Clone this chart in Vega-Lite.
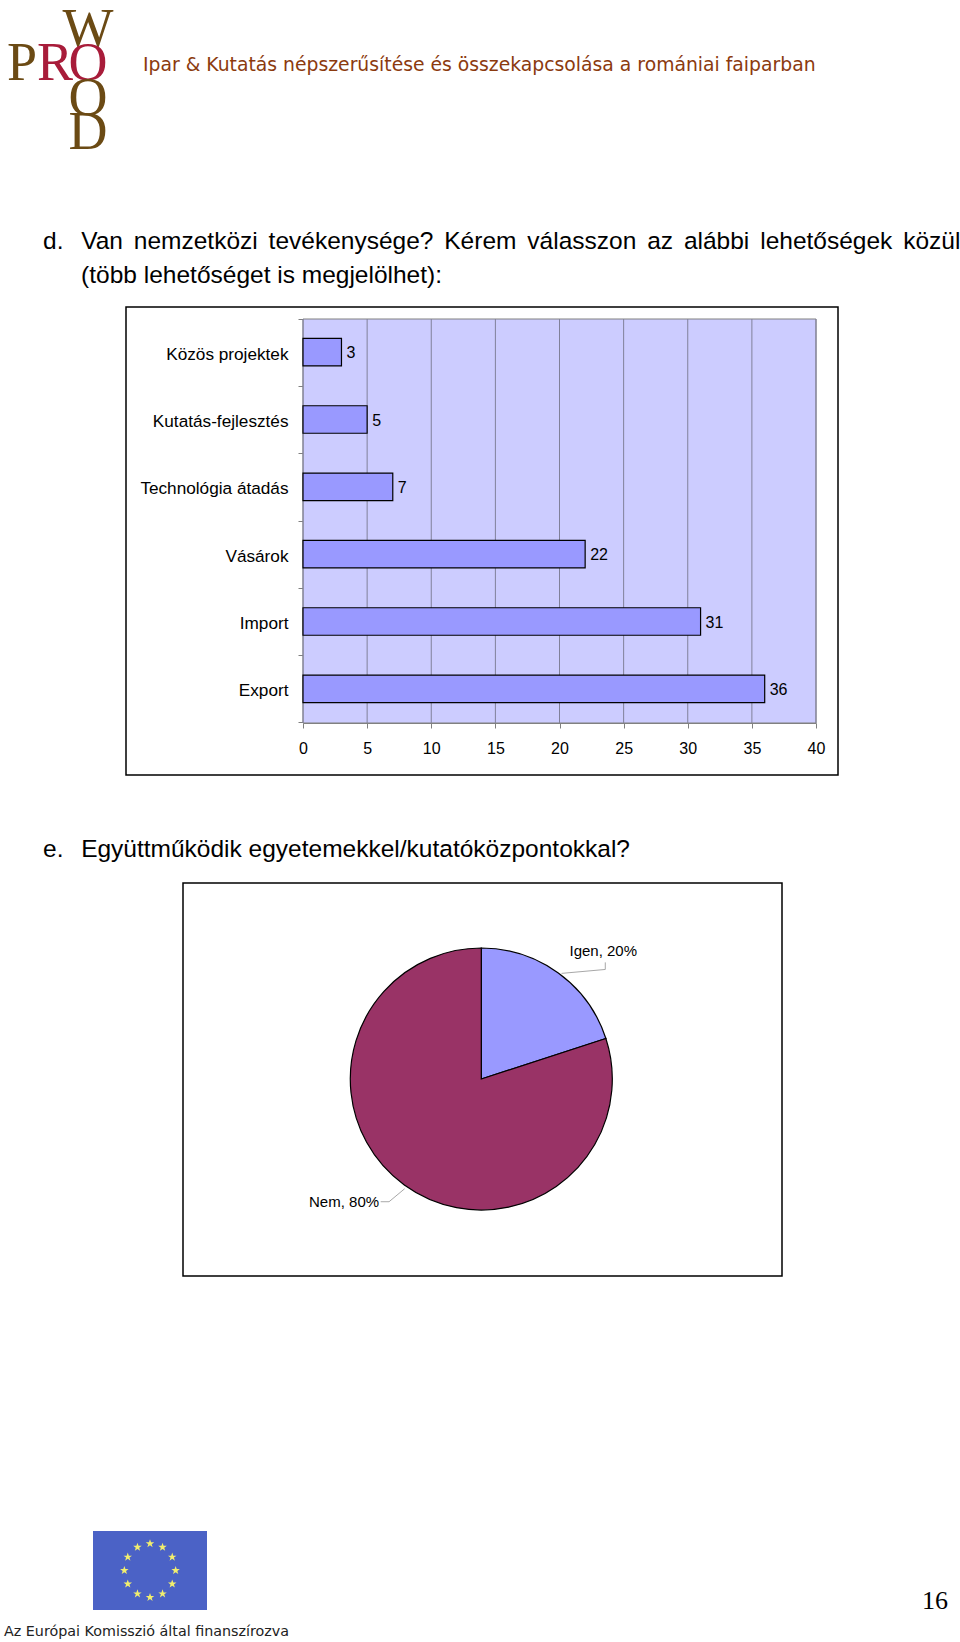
{
"$schema":"https://vega.github.io/schema/vega-lite/v6.json",
"padding":0,"spacing":0,"bounds":"flush","background":"white",
"resolve":{"scale":{"color":"independent"}},
"config":{"view":{"stroke":null},"font":"Liberation Sans","title":{"anchor":"start","frame":"group"}},
"vconcat":[
{"width":960,"height":215,
 "title":{"text":"Ipar & Kutatás népszerűsítése és összekapcsolása a romániai faiparban","font":"DejaVu Sans","fontSize":18.8,"fontWeight":"normal","color":"#8b3a0e","dx":143,"offset":-75},
 "data":{"values":[
  {"letter":"W","col":"c","row":"r1","tone":"brown"},
  {"letter":"P","col":"a","row":"r2","tone":"brown"},
  {"letter":"R","col":"b","row":"r2","tone":"red"},
  {"letter":"O","col":"c","row":"r2","tone":"red"},
  {"letter":"O","col":"c","row":"r3","tone":"brown"},
  {"letter":"D","col":"c","row":"r4","tone":"brown"}]},
 "mark":{"type":"text","font":"Liberation Serif","fontSize":54,"baseline":"middle"},
 "encoding":{
  "x":{"field":"col","type":"ordinal","axis":null,"scale":{"type":"point","padding":0,"range":[22,88]}},
  "y":{"field":"row","type":"ordinal","axis":null,"scale":{"type":"point","padding":0,"range":[30,133]}},
  "text":{"field":"letter"},
  "color":{"field":"tone","legend":null,"scale":{"domain":["brown","red"],"range":["#6b4a14","#a81c3a"]}}}
},
{"width":960,"height":575,
 "title":{"text":["d.\u00a0\u00a0\u2006Van\u00a0\u2006nemzetközi\u00a0\u2006tevékenysége?\u00a0\u2006Kérem\u00a0\u2006válasszon\u00a0\u2006az\u00a0\u2006alábbi\u00a0\u2006lehetőségek\u00a0\u2006közül","\u200b\u00a0\u00a0\u00a0\u00a0\u00a0\u2006(több lehetőséget is megjelölhet):"],"font":"Liberation Sans","fontSize":24.5,"fontWeight":"normal","color":"black","dx":43,"offset":-82.5,"lineHeight":34.5},
 "layer":[
  {"data":{"values":[{"frame":"bars"}]},"mark":{"type":"rect","fill":"transparent","stroke":"black","strokeWidth":1.5},
   "encoding":{
    "x":{"datum":0,"axis":null,"scale":{"domain":[0,1],"range":[126,838]}},"x2":{"datum":1},
    "y":{"datum":0,"axis":null,"scale":{"domain":[0,1],"range":[92,560]}},"y2":{"datum":1}}},
  {"data":{"values":[{"v":0},{"v":5},{"v":10},{"v":15},{"v":20},{"v":25},{"v":30},{"v":35},{"v":40}]},
   "encoding":{
    "x":{"field":"v","type":"quantitative","axis":null,"scale":{"domain":[0,40],"range":[303,816]}},
    "y":{"datum":0,"axis":null,"scale":{"domain":[0,1],"range":[104,508]}},"y2":{"datum":1}},
   "layer":[
    {"mark":{"type":"rect","fill":"#ccccff","stroke":"#808080","strokeWidth":1},"transform":[{"filter":"datum.v===0"}],"encoding":{"x":{"datum":0,"axis":null,"scale":{"domain":[0,40],"range":[303,816]}},"x2":{"datum":40}}},
    {"mark":{"type":"rule","color":"#80809a","strokeWidth":1}}
   ]},
  {"data":{"values":[
    {"cat":"Közös projektek","n":3},{"cat":"Kutatás-fejlesztés","n":5},{"cat":"Technológia átadás","n":7},
    {"cat":"Vásárok","n":22},{"cat":"Import","n":31},{"cat":"Export","n":36}]},
   "encoding":{
    "x":{"field":"n","type":"quantitative","scale":{"domain":[0,40],"range":[303,816],"nice":false},
      "axis":{"orient":"bottom","offset":-67,"title":null,"values":[0,5,10,15,20,25,30,35,40],"grid":false,"labelFlush":false,"labelFontSize":16,"labelColor":"black","labelFont":"Liberation Sans","labelPadding":12,"tickSize":5,"tickColor":"#808080","domainColor":"#808080"}},
    "y":{"field":"cat","type":"nominal","sort":null,"scale":{"range":[103.5,507.5],"paddingInner":0,"paddingOuter":0},
      "axis":{"orient":"left","offset":-303,"title":null,"grid":false,"labelFontSize":17.2,"labelColor":"black","labelFont":"Liberation Sans","labelPadding":10,"labelOffset":2,"tickSize":5,"tickBand":"extent","tickColor":"#808080","domainColor":"#808080"}}},
   "layer":[
    {"mark":{"type":"bar","fill":"#9999ff","stroke":"black","strokeWidth":1.2,"height":27.5}},
    {"mark":{"type":"text","align":"left","dx":5,"dy":1,"baseline":"middle","fontSize":16,"color":"black"},"encoding":{"text":{"field":"n"}}}
   ]}
 ],
 "resolve":{"scale":{"x":"independent","y":"independent"}}
},
{"width":960,"height":578,
 "title":{"text":"e.\u00a0\u00a0\u2006Együttműködik egyetemekkel/kutatóközpontokkal?","font":"Liberation Sans","fontSize":24.5,"fontWeight":"normal","color":"black","dx":43,"offset":-72},
 "layer":[
  {"data":{"values":[{"frame":"pie"}]},"mark":{"type":"rect","fill":"white","stroke":"black","strokeWidth":1.5},
   "encoding":{
    "x":{"datum":0,"axis":null,"scale":{"domain":[0,1],"range":[183,782]}},"x2":{"datum":1},
    "y":{"datum":0,"axis":null,"scale":{"domain":[0,1],"range":[93,486]}},"y2":{"datum":1}}},
  {"data":{"values":[
    {"answer":"Igen","share":20},{"answer":"Nem","share":80}]},
   "encoding":{"x":{"datum":0.498,"axis":null,"scale":{"domain":[0,1],"range":[183,782]}}},
   "layer":[
    {"mark":{"type":"arc","outerRadius":131,"stroke":"black","strokeWidth":1.2},
     "encoding":{"theta":{"field":"share","type":"quantitative","stack":true,"scale":{"domain":[0,100]}},
      "order":{"field":"share"},
      "color":{"field":"answer","legend":null,"scale":{"domain":["Igen","Nem"],"range":["#9999ff","#993366"]}}}},
    {"transform":[{"filter":"datum.answer==='Igen'"}],"mark":{"type":"text","radius":177,"fontSize":15,"color":"black"},
     "encoding":{"theta":{"datum":12.1,"scale":{"domain":[0,100]}},"text":{"value":"Igen, 20%"}}},
    {"transform":[{"filter":"datum.answer==='Nem'"}],"mark":{"type":"text","radius":184,"fontSize":15,"color":"black"},
     "encoding":{"theta":{"datum":63.4,"scale":{"domain":[0,100]}},"text":{"value":"Nem, 80%"}}}
   ]},
  {"data":{"values":[
    {"lead":"Igen","i":1,"fx":0.705,"fy":0.202},{"lead":"Igen","i":2,"fx":0.705,"fy":0.22},{"lead":"Igen","i":3,"fx":0.632,"fy":0.23},
    {"lead":"Nem","i":1,"fx":0.37,"fy":0.778},{"lead":"Nem","i":2,"fx":0.344,"fy":0.811},{"lead":"Nem","i":3,"fx":0.33,"fy":0.811}]},
   "mark":{"type":"line","color":"#a8a8a8","strokeWidth":1},
   "encoding":{
    "x":{"field":"fx","type":"quantitative","axis":null,"scale":{"domain":[0,1],"range":[183,782]}},
    "y":{"field":"fy","type":"quantitative","axis":null,"scale":{"domain":[0,1],"range":[93,486]}},
    "detail":{"field":"lead"},"order":{"field":"i"}}}
 ],
 "resolve":{"scale":{"x":"independent","y":"independent"}}
},
{"width":960,"height":257,
 "title":{"text":"16","anchor":"end","font":"Liberation Serif","fontSize":26,"fontWeight":"normal","color":"black","dx":-12,"offset":-246},
 "layer":[
  {"data":{"values":[{"flag":"EU"}]},"mark":{"type":"rect","fill":"#4b62c6"},
   "encoding":{"x":{"datum":-1,"axis":null,"scale":{"domain":[-1,1],"range":[93,207]}},"x2":{"datum":1},
    "y":{"datum":1,"axis":null,"scale":{"domain":[1,-1],"range":[163,242]}},"y2":{"datum":-1}}},
  {"data":{"values":[
    {"fx":0.0,"fy":0.68},{"fx":0.22,"fy":0.59},{"fx":0.39,"fy":0.34},{"fx":0.45,"fy":0.0},{"fx":0.39,"fy":-0.34},{"fx":0.22,"fy":-0.59},
    {"fx":0.0,"fy":-0.68},{"fx":-0.22,"fy":-0.59},{"fx":-0.39,"fy":-0.34},{"fx":-0.45,"fy":0.0},{"fx":-0.39,"fy":0.34},{"fx":-0.22,"fy":0.59}]},
   "mark":{"type":"point","filled":true,"fill":"#f2ee6e","opacity":1,"size":80,"shape":"M0,-1L0.24,-0.31L0.95,-0.31L0.38,0.12L0.59,0.81L0,0.38L-0.59,0.81L-0.38,0.12L-0.95,-0.31L-0.24,-0.31Z"},
   "encoding":{"x":{"field":"fx","type":"quantitative","axis":null,"scale":{"domain":[-1,1],"range":[93,207]}},
    "y":{"field":"fy","type":"quantitative","axis":null,"scale":{"domain":[1,-1],"range":[163,242]}}}}
 ],
 "resolve":{"scale":{"x":"shared","y":"shared"}}
},
{"width":960,"height":17,
 "title":{"text":"Az Európai Komisszió által finanszírozva","font":"DejaVu Sans","fontSize":14.3,"fontWeight":"normal","color":"#222222","dx":4,"offset":-14},
 "data":{"values":[]},"mark":{"type":"text"},"encoding":{}
}
]
}
